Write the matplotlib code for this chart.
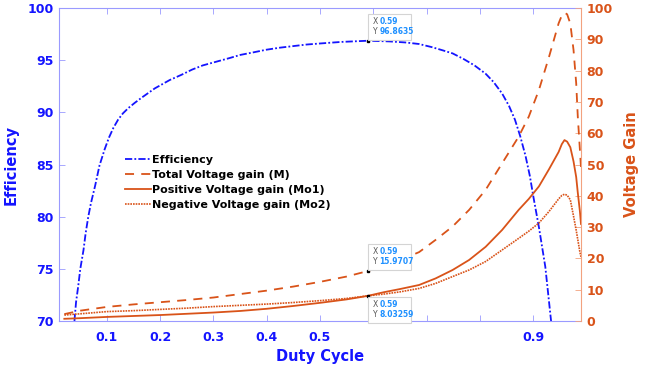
import numpy as np
import matplotlib
matplotlib.use('Agg')
import matplotlib.pyplot as plt
from matplotlib.patches import Rectangle
from matplotlib.transforms import ScaledTranslation

# ── Data ───────────────────────────────────────────────────────────────────────
duty_eff = [0.039, 0.042, 0.046, 0.050, 0.056, 0.060, 0.065, 0.070, 0.078, 0.086,
            0.096, 0.104, 0.112, 0.121, 0.130, 0.140, 0.152, 0.165, 0.190, 0.218,
            0.240, 0.260, 0.280, 0.305, 0.330, 0.350, 0.375, 0.399, 0.425, 0.450,
            0.475, 0.500, 0.540, 0.590, 0.630, 0.660, 0.686, 0.710, 0.730, 0.749,
            0.770, 0.790, 0.811, 0.826, 0.842, 0.855, 0.866, 0.876, 0.886, 0.894,
            0.901, 0.911, 0.917, 0.923, 0.928, 0.933, 0.936]
efficiency = [70.0, 71.8, 73.3, 75.0, 76.8, 78.4, 80.0, 81.3, 83.0, 84.9,
              86.5, 87.6, 88.5, 89.3, 89.9, 90.4, 90.9, 91.4, 92.3, 93.1,
              93.6, 94.1, 94.5, 94.85, 95.2, 95.5, 95.75, 96.0, 96.2, 96.35,
              96.5, 96.6, 96.75, 96.8635, 96.8, 96.7, 96.55, 96.25, 95.95, 95.65,
              95.1, 94.5, 93.7, 92.9, 91.8, 90.6, 89.3, 87.7, 85.8, 83.9,
              81.8, 79.0, 77.1, 75.2, 72.8, 70.4, 69.0]

duty_gain = [0.02, 0.05, 0.10, 0.15, 0.20, 0.25, 0.30, 0.35, 0.40, 0.45,
             0.50, 0.55, 0.59, 0.62, 0.65, 0.686, 0.717, 0.749, 0.780, 0.811,
             0.842, 0.873, 0.892, 0.911, 0.930, 0.948, 0.954, 0.959, 0.964, 0.970,
             0.976, 0.981, 0.984, 0.988, 0.990]
gain_M = [2.2, 3.3, 4.5, 5.3, 6.0, 6.7, 7.5, 8.6, 9.7, 11.0,
          12.5, 14.2, 15.9707, 17.6, 19.4, 22.0, 25.9, 30.2, 35.5, 41.9,
          50.4, 58.9, 65.3, 73.8, 84.4, 95.1, 97.6, 98.5, 98.0, 95.0,
          86.6, 76.0, 65.3, 54.6, 49.0]
gain_Mo1 = [0.7, 0.9, 1.3, 1.6, 1.9, 2.3, 2.7, 3.2, 3.9, 4.8,
            5.8, 6.9, 8.03259, 9.2, 10.2, 11.5, 13.6, 16.3, 19.5, 23.7,
            29.1, 35.5, 39.0, 43.0, 48.5, 54.0, 56.5, 57.8, 57.3, 55.5,
            51.0, 46.0, 41.0, 35.0, 31.0]
gain_Mo2 = [1.9, 2.3, 3.0, 3.3, 3.7, 4.1, 4.6, 5.0, 5.4, 5.9,
            6.5, 7.2, 8.03259, 8.6, 9.3, 10.4, 12.0, 14.2, 16.3, 19.0,
            22.7, 26.4, 28.7, 31.3, 35.0, 39.0, 40.1, 40.5, 40.2, 38.7,
            33.5, 29.0, 26.0, 22.0, 20.5]

x_ticks = [0.1, 0.2, 0.3, 0.4, 0.5, 0.6, 0.7, 0.8, 0.9]
x_ticklabels = ['0.1', '0.2', '0.3', '0.4', '0.5', '', '', '', '0.9']

# data tips
tip_x = [0.59, 0.59, 0.59]
tip_y = [96.8635, 15.9707, 8.03259]
tip_txt = ['96.8635', '15.9707', '8.03259']

BLUE = '#1414ff'
ORANGE = '#d95319'
BLUE_AX = '#9a9aff'
ORANGE_AX = '#f2a27f'

# ── Figure ─────────────────────────────────────────────────────────────────────
fig = plt.figure(figsize=(6.49, 3.71), dpi=100)
ax = fig.add_axes([0.0909, 0.1348, 0.8043, 0.8436])
ax2 = ax.twinx()

l_eff, = ax.plot(duty_eff, efficiency, color=BLUE, lw=1.3,
                 linestyle=(0, (4, 1.2, 1, 1.2)), label='Efficiency')
l_m, = ax2.plot(duty_gain, gain_M, color=ORANGE, lw=1.3,
                linestyle=(0, (5, 4)), label='Total Voltage gain (M)')
l_p, = ax2.plot(duty_gain, gain_Mo1, color=ORANGE, lw=1.3,
                linestyle='-', label='Positive Voltage gain (Mo1)')
l_n, = ax2.plot(duty_gain, gain_Mo2, color=ORANGE, lw=1.2,
                linestyle=(0, (1, 0.6)), label='Negative Voltage gain (Mo2)')

ax.set_xlim(0.01, 0.99)
ax.set_ylim(70, 100)
ax2.set_ylim(0, 100)

ax.set_xticks(x_ticks)
ax.set_xticklabels(x_ticklabels)
ax.set_yticks(np.arange(70, 101, 5))
ax2.set_yticks(np.arange(0, 101, 10))

for lab in ax.get_xticklabels() + ax.get_yticklabels():
    lab.set_fontweight('bold')
for lab in ax2.get_yticklabels():
    lab.set_fontweight('bold')

ax.tick_params(axis='x', direction='in', length=4, width=0.6, color=BLUE_AX,
               labelcolor=BLUE, labelsize=9, pad=7, top=True)
ax.tick_params(axis='y', direction='in', length=4, width=0.6, color=BLUE_AX,
               labelcolor=BLUE, labelsize=9, pad=4)
ax2.tick_params(axis='y', direction='in', length=4, width=0.6, color=ORANGE_AX,
                labelcolor=ORANGE, labelsize=9, pad=4)

for side in ['left', 'top', 'bottom']:
    ax.spines[side].set_color(BLUE_AX)
    ax.spines[side].set_linewidth(0.8)
ax.spines['right'].set_visible(False)
for side in ['left', 'top', 'bottom']:
    ax2.spines[side].set_visible(False)
ax2.spines['right'].set_color(ORANGE_AX)
ax2.spines['right'].set_linewidth(0.8)

ax.set_xlabel('Duty Cycle', color=BLUE, fontsize=10.5, fontweight='bold', labelpad=4)
ax.set_ylabel('Efficiency', color=BLUE, fontsize=10.5, fontweight='bold', labelpad=6)
ax2.set_ylabel('Voltage Gain', color=ORANGE, fontsize=10.5, fontweight='bold', labelpad=8)

leg = ax.legend(handles=[l_eff, l_m, l_p, l_n], loc='upper left',
                bbox_to_anchor=(0.118, 0.545), frameon=False, fontsize=8,
                handlelength=2.3, handletextpad=0.15, labelspacing=0.45,
                borderaxespad=0)
for t in leg.get_texts():
    t.set_fontweight('bold')
leg.set_zorder(5)

# ── Data tips ──────────────────────────────────────────────────────────────────
tip_axes = [ax, ax2, ax2]
tip_above = [True, True, False]
for a, x, y, txt, above in zip(tip_axes, tip_x, tip_y, tip_txt, tip_above):
    a.plot([x], [y], 's', color='black', ms=2, zorder=6)
    tr = fig.dpi_scale_trans + ScaledTranslation(x, y, a.transData)
    y0 = 0.01 if above else -0.27
    box = Rectangle((0.0, y0), 0.43, 0.26, transform=tr, facecolor='white',
                    edgecolor='#d4d4d4', lw=0.8, zorder=7, clip_on=False)
    fig.add_artist(box)
    for k, (key, val) in enumerate([('X', '0.59'), ('Y', txt)]):
        yy = y0 + 0.185 - k * 0.10
        fig.text(0.05, yy, key, transform=tr, fontsize=5.5, color='#555555',
                 va='center', ha='left', zorder=8)
        fig.text(0.115, yy, val, transform=tr, fontsize=5.5, color='#1e90ff',
                 fontweight='bold', va='center', ha='left', zorder=8)

fig.savefig('out.png', dpi=100)
